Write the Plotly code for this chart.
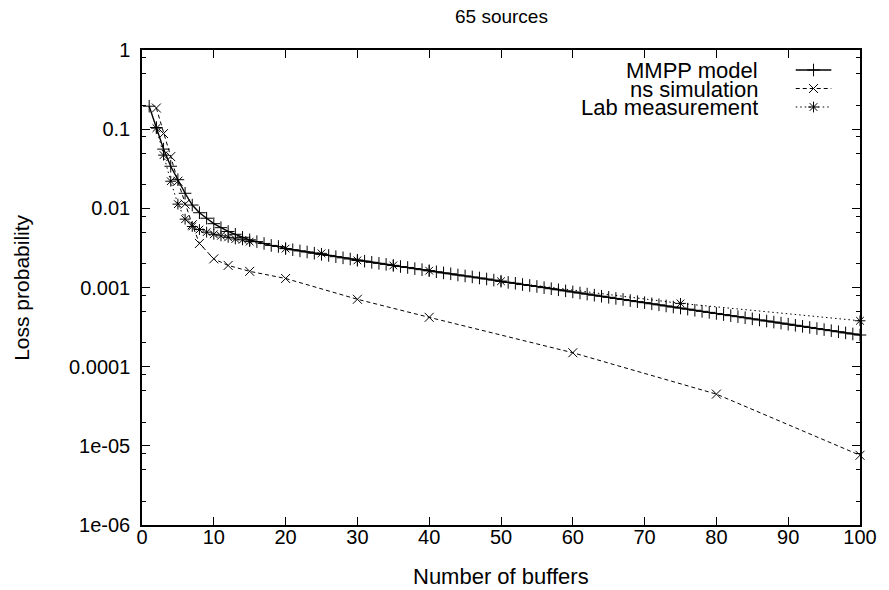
import plotly.graph_objects as go

# ---------------- data ----------------
mmpp_x = list(range(1, 101))
mmpp_y = [
    0.195, 0.105, 0.056, 0.034, 0.023, 0.0155, 0.011, 0.0088, 0.0075, 0.0064,
    0.0057, 0.0051, 0.0047, 0.0043, 0.0040, 0.0038, 0.0036, 0.0034, 0.0033, 0.0031,
    0.00300, 0.00290, 0.00281, 0.00271, 0.00262, 0.00254, 0.00245, 0.00237, 0.00229, 0.00221,
    0.00215, 0.00208, 0.00202, 0.00196, 0.00190, 0.00184, 0.00179, 0.00173, 0.00168, 0.00163,
    0.00158, 0.00153, 0.00149, 0.00144, 0.00140, 0.00136, 0.00132, 0.00128, 0.00124, 0.00120,
    0.00116, 0.00113, 0.00109, 0.00106, 0.00103, 0.000996, 0.000966, 0.000936, 0.000907, 0.000879,
    0.000852, 0.000826, 0.000800, 0.000776, 0.000752, 0.000728, 0.000706, 0.000684, 0.000663, 0.000643,
    0.000623, 0.000604, 0.000585, 0.000567, 0.000550, 0.000533, 0.000516, 0.000500, 0.000485, 0.000470,
    0.000455, 0.000441, 0.000428, 0.000415, 0.000402, 0.000389, 0.000377, 0.000366, 0.000355, 0.000344,
    0.000333, 0.000323, 0.000313, 0.000303, 0.000294, 0.000285, 0.000276, 0.000267, 0.000259, 0.000251,
]

ns_x = [2, 3, 4, 5, 6, 7, 8, 10, 12, 15, 20, 30, 40, 60, 80, 100]
ns_y = [0.185, 0.088, 0.045, 0.022, 0.0113, 0.0062, 0.0036, 0.0023, 0.0019, 0.0016,
        0.0013, 0.00071, 0.00042, 0.00015, 0.000045, 0.0000076]

lab_x = [2, 3, 4, 5, 6, 7, 8, 9, 10, 11, 12, 13, 14, 15, 20, 25, 30, 35, 40, 50, 75, 100]
lab_y = [0.103, 0.047, 0.022, 0.0113, 0.0073, 0.0059, 0.0054, 0.0050, 0.0047, 0.0045,
         0.0043, 0.0041, 0.0040, 0.0038, 0.0031, 0.0027, 0.0022, 0.0019, 0.00163, 0.0012,
         0.00063, 0.00038]

series_names = ["MMPP model", "ns simulation", "Lab measurement"]
x_ticks = [0, 10, 20, 30, 40, 50, 60, 70, 80, 90, 100]
y_tickvals = [1, 0.1, 0.01, 0.001, 0.0001, 0.00001, 0.000001]
y_ticktext = ["1", "0.1", "0.01", "0.001", "0.0001", "1e-05", "1e-06"]
y_minor = [m * 10.0 ** e for e in range(-6, 0) for m in (2, 5, 8)]

title_text = "65 sources"
x_title = "Number of buffers"
y_title = "Loss probability"

# ---------------- styling ----------------
FONT = "Liberation Sans, Arial, Helvetica, sans-serif"
FS = 20
W, H = 889, 590
L, R, T, B = 142, 868, 50, 525   # plot-area pixel box


def px(xp):
    return (xp - L) / (R - L)


def py(yp):
    return (B - yp) / (B - T)


styles = [
    dict(dash="solid", symbol="cross-thin-open", width=1.4),
    dict(dash="4px,3px", symbol="x-thin-open", width=1.0),
    dict(dash="1.5px,3px", symbol="asterisk-open", width=1.0),
]

fig = go.Figure()
for (xs, ys), name, st in zip([(mmpp_x, mmpp_y), (ns_x, ns_y), (lab_x, lab_y)], series_names, styles):
    fig.add_trace(go.Scatter(
        x=xs, y=ys, mode="lines+markers", name=name,
        line=dict(color="black", width=st["width"], dash=st["dash"]),
        marker=dict(symbol=st["symbol"], size=9, color="black",
                    line=dict(color="black", width=1)),
        showlegend=False, cliponaxis=False,
    ))

# custom gnuplot-style key (text right-aligned, sample to its right)
key_rows = [70, 88.5, 107]
for name, st, ky in zip(series_names, styles, key_rows):
    fig.add_trace(go.Scatter(
        x=[803, 839], y=[ky, ky], mode="lines", xaxis="x2", yaxis="y2",
        line=dict(color="black", width=st["width"], dash=st["dash"]),
        showlegend=False, hoverinfo="skip"))
    fig.add_trace(go.Scatter(
        x=[821], y=[ky], mode="markers", xaxis="x2", yaxis="y2",
        marker=dict(symbol=st["symbol"], size=9, color="black",
                    line=dict(color="black", width=1)),
        showlegend=False, hoverinfo="skip"))
    fig.add_annotation(x=px(766), y=py(ky), xref="paper", yref="paper", text=name,
                       showarrow=False, xanchor="right", yanchor="middle",
                       height=18, borderpad=0, valign="middle",
                       font=dict(family=FONT, size=22, color="black"))

fig.add_annotation(x=px((L + R) / 2), y=py(16), xref="paper", yref="paper", text=title_text,
                   showarrow=False, xanchor="center", yanchor="middle",
                   font=dict(family=FONT, size=19, color="black"))
fig.add_annotation(x=px((L + R) / 2), y=py(576), xref="paper", yref="paper", text=x_title,
                   showarrow=False, xanchor="center", yanchor="middle",
                   font=dict(family=FONT, size=22, color="black"))
fig.add_annotation(x=px(20), y=py((T + B) / 2), xref="paper", yref="paper", text=y_title,
                   showarrow=False, xanchor="center", yanchor="middle", textangle=-90,
                   font=dict(family=FONT, size=21, color="black"))

axis_common = dict(showline=True, linecolor="black", linewidth=1.5, mirror="allticks",
                   ticks="inside", tickcolor="black", tickwidth=1, showgrid=False,
                   zeroline=False, tickfont=dict(family=FONT, size=FS, color="black"))

fig.update_layout(
    width=W, height=H,
    margin=dict(l=L, r=W - R, t=T, b=H - B, pad=0),
    paper_bgcolor="white", plot_bgcolor="white",
    showlegend=False,
    xaxis=dict(range=[0, 100], tickvals=x_ticks, ticklen=8, ticklabelstandoff=-7,
               **axis_common),
    yaxis=dict(type="log", range=[-6, 0], tickvals=y_tickvals, ticktext=y_ticktext,
               ticklen=8, ticklabelstandoff=6,
               minor=dict(tickvals=y_minor, ticks="inside", ticklen=4,
                          tickcolor="black", tickwidth=1, showgrid=False),
               **axis_common),
    xaxis2=dict(overlaying="x", range=[L, R], visible=False, fixedrange=True),
    yaxis2=dict(overlaying="y", range=[B, T], visible=False, fixedrange=True),
)

fig.write_html("out.html")
